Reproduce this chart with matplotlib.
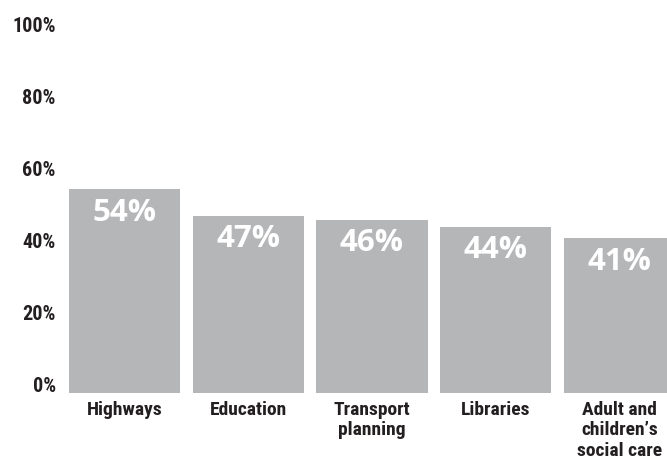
import matplotlib
matplotlib.use("Agg")
import matplotlib.pyplot as plt
from matplotlib import font_manager

# Survey results by service area
categories = ["Highways", "Education", "Transport\nplanning", "Libraries",
              "Adult and\nchildren\u2019s\nsocial care"]
values = [54, 47, 46, 44, 41]
ytick_values = [0, 20, 40, 60, 80, 100]
ytick_labels = ["0%", "20%", "40%", "60%", "80%", "100%"]

BAR_COLOR = "#b5b6b8"
TEXT_COLOR = "#231f20"


def pick_family(candidates, fallback="DejaVu Sans"):
    names = {f.name for f in font_manager.fontManager.ttflist}
    for c in candidates:
        if c in names:
            return c
    return fallback


narrow = pick_family(["Roboto Condensed", "Open Sans Condensed", "Liberation Sans Narrow",
                      "DejaVu Sans Condensed"])
wide = pick_family(["Open Sans", "Noto Sans", "DejaVu Sans"])

W, H = 667, 459
fig = plt.figure(figsize=(W / 100, H / 100), dpi=100)

# Bar axes: zero line at y=393 px from top
ax = fig.add_axes([69 / W, 66 / H, 598 / W, 377 / H])
bars = ax.bar(range(len(values)), values, width=0.9, color=BAR_COLOR)
ax.set_ylim(0, 100)
ax.set_xlim(-0.45, -0.45 + 598 / 123.67)
for s in ax.spines.values():
    s.set_visible(False)
ax.set_yticks([])
ax.set_xticks(range(len(categories)))
ax.set_xticklabels(categories, fontfamily=narrow, fontweight="bold", fontsize=14,
                   color=TEXT_COLOR, linespacing=1.15, va="top")
ax.tick_params(axis="x", length=0, pad=6)

for rect, v in zip(bars, values):
    ax.annotate(f"{v}%", xy=(rect.get_x() + rect.get_width() / 2, rect.get_height()),
                xytext=(0, -6), textcoords="offset points", ha="center", va="top",
                color="white", fontfamily=wide, fontweight="bold", fontsize=22.5)

# Percentage scale labels
lab = fig.add_axes([69 / W, 67 / H, 598 / W, 360 / H])
lab.set_ylim(0, 100)
lab.patch.set_visible(False)
for s in lab.spines.values():
    s.set_visible(False)
lab.set_xticks([])
lab.set_yticks(ytick_values)
lab.set_yticklabels(ytick_labels, fontfamily=narrow, fontweight="bold", fontsize=14.5,
                    color=TEXT_COLOR)
lab.tick_params(axis="y", length=0, pad=9.5)
for t in lab.get_yticklabels():
    t.set_verticalalignment("baseline")

fig.savefig("out.png", dpi=100)
